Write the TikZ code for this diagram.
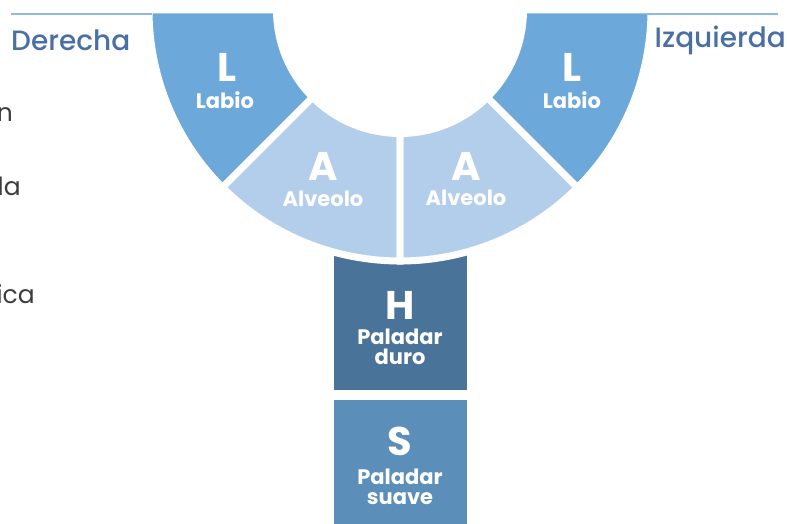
\documentclass[tikz,border=0pt]{standalone}
\usepackage{fontspec}
\setmainfont{Poppins}
\newfontfamily\medfont{Poppins Medium}
\usetikzlibrary{calc}
\definecolor{labiocol}{RGB}{108,168,218}
\definecolor{alveocol}{RGB}{179,206,234}
\definecolor{durocol}{RGB}{73,115,152}
\definecolor{suavecol}{RGB}{92,142,186}
\definecolor{sidecol}{RGB}{74,111,165}
\definecolor{rulecol}{RGB}{143,185,224}
\definecolor{cutcol}{RGB}{60,60,60}
\begin{document}
\begin{tikzpicture}[x=1pt,y=1pt,
    sector/.style={draw=white,line width=7pt,line join=miter},
    letter/.style={text=white,font=\bfseries\fontsize{40}{40}\selectfont,inner sep=0pt},
    partname/.style={text=white,font=\bfseries\fontsize{21}{20.5}\selectfont,inner sep=0pt,align=center},
    sidename/.style={text=sidecol,font=\medfont\fontsize{28}{28}\selectfont,inner sep=0pt},
    cuttext/.style={text=cutcol,font=\fontsize{25}{25}\selectfont,inner sep=0pt,anchor=east}]
    \useasboundingbox (0,0) rectangle (787,-524);
    {
    \coordinate (c) at (400,-10);

    % Palate blocks H and S
    \fill[durocol] (334,-250) rectangle (467,-390);%
    \fill[suavecol] (334,-400) rectangle (467,-524);%

    % Sector L, left
    \filldraw[sector,fill=labiocol] ($(c)+(180:251)$) arc[start angle=180,end angle=225,radius=251]
        -- ($(c)+(225:123.5)$) arc[start angle=225,end angle=180,radius=123.5] -- cycle;%
    % Sector A, left
    \filldraw[sector,fill=alveocol] ($(c)+(225:251)$) arc[start angle=225,end angle=270,radius=251]
        -- ($(c)+(270:123.5)$) arc[start angle=270,end angle=225,radius=123.5] -- cycle;%
    % Sector A, right
    \filldraw[sector,fill=alveocol] ($(c)+(270:251)$) arc[start angle=270,end angle=315,radius=251]
        -- ($(c)+(315:123.5)$) arc[start angle=315,end angle=270,radius=123.5] -- cycle;%
    % Sector L, right
    \filldraw[sector,fill=labiocol] ($(c)+(315:251)$) arc[start angle=315,end angle=360,radius=251]
        -- ($(c)+(360:123.5)$) arc[start angle=360,end angle=315,radius=123.5] -- cycle;%

    % Top rules
    \draw[rulecol,line width=1.5pt] (11,-14) -- (152,-14);%
    \draw[rulecol,line width=1.5pt] (647,-14) -- (778,-14);%

    % Side names
    \node[sidename,anchor=west] (der) at (11,-40) {Derecha};%
    \node[sidename,anchor=east] (izq) at (786,-40) {Izquierda};%

    % Cut text at the left border
    \node[cuttext] (cut1) at (13,-115) {n};%
    \node[cuttext] (cut2) at (21,-186) {la};%
    \node[cuttext] (cut3) at (35,-294) {ica};%

    % Labels L
    \node[letter] (ll) at (227,-67) {L};%
    \node[partname] (llt) at (225,-100) {Labio};%
    \node[letter] (lr) at (572,-67) {L};%
    \node[partname] (lrt) at (572,-100) {Labio};%

    % Labels A
    \node[letter] (al) at (323,-166) {A};%
    \node[partname] (alt) at (323,-199) {Alveolo};%
    \node[letter] (ar) at (466,-166) {A};%
    \node[partname] (art) at (466,-198) {Alveolo};%

    % Labels H and S
    \node[letter] (h) at (400,-305) {H};%
    \node[partname] (ht) at (400,-347) {Paladar\\duro};%
    \node[letter] (s) at (400,-441) {S};%
    \node[partname] (st) at (400,-487) {Paladar\\suave};%
    }
\end{tikzpicture}
\end{document}
